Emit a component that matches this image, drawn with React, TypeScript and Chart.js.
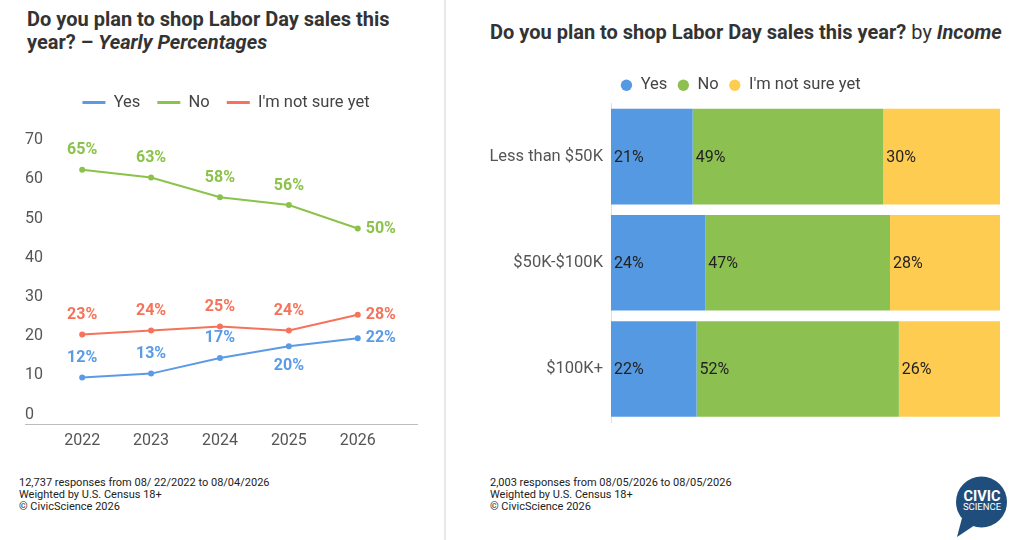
import React, { useEffect, useRef } from 'react';
import { Chart, registerables } from 'chart.js';

Chart.register(...registerables);

// ---------- data ----------
const years = [2022, 2023, 2024, 2025, 2026];
const yesByYear = [12, 13, 17, 20, 22];
const noByYear = [65, 63, 58, 56, 50];
const notSureByYear = [23, 24, 25, 24, 28];
const yearTicks = [0, 10, 20, 30, 40, 50, 60, 70];

const incomeGroups = ['Less than $50K', '$50K-$100K', '$100K+'];
const yesByIncome = [21, 24, 22];
const noByIncome = [49, 47, 52];
const notSureByIncome = [30, 28, 26];

const seriesNames = ['Yes', 'No', "I'm not sure yet"];

// ---------- styles ----------
const FONT = 'Roboto, "Noto Sans", "Liberation Sans", sans-serif';
const LINE_COLORS = ['#5B9BE6', '#8BC34A', '#F4735A'];
const BAR_COLORS = ['#5599E3', '#8CC152', '#FFCC52'];
const LABEL_PLACEMENT = [
  ['above', 'above', 'above', 'below', 'right'],
  ['above', 'above', 'above', 'above', 'right'],
  ['above', 'above', 'above', 'above', 'right'],
];
const LEFT_LEGEND_SHIFT = 5;

Chart.defaults.font.family = FONT;

const lineLabelPlugin = {
  id: 'lineLabels',
  afterLayout(chart: any) {
    if (chart.legend) {
      chart.legend.left += LEFT_LEGEND_SHIFT;
      chart.legend.right += LEFT_LEGEND_SHIFT;
    }
  },
  afterDatasetsDraw(chart: any) {
    const ctx = chart.ctx;
    ctx.save();
    ctx.font = `bold 16px ${FONT}`;
    ctx.textBaseline = 'middle';
    chart.data.datasets.forEach((ds: any, i: number) => {
      const meta = chart.getDatasetMeta(i);
      meta.data.forEach((pt: any, j: number) => {
        const v = ds.data[j].y;
        const place = LABEL_PLACEMENT[i][j];
        let x = pt.x;
        let y = pt.y;
        ctx.fillStyle = LINE_COLORS[i];
        if (place === 'right') {
          ctx.textAlign = 'left';
          x += 8;
        } else {
          ctx.textAlign = 'center';
          y += place === 'above' ? -19.5 : 19.5;
        }
        ctx.fillText(`${v}%`, x, y);
      });
    });
    ctx.restore();
  },
};

const barLabelPlugin = {
  id: 'barLabels',
  afterDatasetsDraw(chart: any) {
    const ctx = chart.ctx;
    ctx.save();
    ctx.font = `16px ${FONT}`;
    ctx.fillStyle = '#222222';
    ctx.textAlign = 'left';
    ctx.textBaseline = 'middle';
    chart.data.datasets.forEach((ds: any, i: number) => {
      const meta = chart.getDatasetMeta(i);
      meta.data.forEach((bar: any, j: number) => {
        const p = bar.getProps(['x', 'y', 'base'], true);
        ctx.fillText(`${ds.rawValues[j]}%`, Math.min(p.x, p.base) + 3, p.y + 1);
      });
    });
    ctx.restore();
  },
};

function makeLineConfig(): any {
  const series = [yesByYear, noByYear, notSureByYear];
  return {
    type: 'line',
    data: {
      datasets: series.map((vals, i) => ({
        label: seriesNames[i],
        data: years.map((yr, k) => ({ x: yr, y: vals[k] })),
        borderColor: LINE_COLORS[i],
        backgroundColor: LINE_COLORS[i],
        pointBackgroundColor: LINE_COLORS[i],
        borderWidth: 2,
        pointRadius: 3,
        pointBorderWidth: 0,
        tension: 0,
      })),
    },
    options: {
      animation: false,
      responsive: false,
      layout: { padding: { top: 7.2, left: 25, right: 28, bottom: 3.2 } },
      plugins: {
        tooltip: { enabled: false },
        legend: {
          display: true,
          position: 'top',
          labels: {
            boxWidth: 23,
            boxHeight: 3,
            padding: 17,
            color: '#444444',
            font: { size: 16.5, family: FONT },
            generateLabels: (chart: any) =>
              Chart.defaults.plugins.legend.labels
                .generateLabels(chart)
                .map((l: any) => ({ ...l, lineWidth: 0 })),
          },
        },
      },
      scales: {
        x: {
          type: 'linear',
          min: 2021.17,
          max: 2026.86,
          afterBuildTicks: (axis: any) => {
            axis.ticks = years.map((v) => ({ value: v }));
          },
          grid: { display: false, drawTicks: false },
          border: { display: true, color: '#BDBDBD', width: 1 },
          ticks: {
            callback: (v: any) => String(v),
            color: '#555555',
            font: { size: 16, family: FONT },
            padding: 6.5,
          },
        },
        y: {
          min: 0,
          max: 77.5,
          afterBuildTicks: (axis: any) => {
            axis.ticks = yearTicks.map((v) => ({ value: v }));
          },
          grid: { display: false, drawTicks: false },
          border: { display: false },
          ticks: {
            mirror: true,
            padding: 0,
            labelOffset: -10,
            color: '#555555',
            font: { size: 16, family: FONT },
          },
        },
      },
    },
    plugins: [lineLabelPlugin],
  };
}

function makeBarConfig(): any {
  const series = [yesByIncome, noByIncome, notSureByIncome];
  const rowTotals = incomeGroups.map((_, k) => series.reduce((s, vals) => s + vals[k], 0));
  return {
    type: 'bar',
    data: {
      labels: incomeGroups,
      datasets: series.map((vals, i) => ({
        label: seriesNames[i],
        // 100% stacked: each row is scaled to its total
        data: vals.map((v, k) => (v / rowTotals[k]) * 100),
        rawValues: vals,
        backgroundColor: BAR_COLORS[i],
        borderWidth: 0,
        categoryPercentage: 1,
        barPercentage: 0.9,
      })),
    },
    options: {
      animation: false,
      responsive: false,
      indexAxis: 'y',
      layout: { padding: { top: 7, left: 0, right: 24, bottom: 12.5 } },
      plugins: {
        tooltip: { enabled: false },
        legend: {
          display: true,
          position: 'top',
          labels: {
            usePointStyle: true,
            pointStyle: 'circle',
            boxWidth: 12,
            boxHeight: 8,
            padding: 10,
            color: '#444444',
            font: { size: 16.5, family: FONT },
          },
        },
      },
      scales: {
        x: { stacked: true, min: 0, max: 100, display: false },
        y: {
          stacked: true,
          afterFit: (s: any) => {
            s.width = 130;
          },
          grid: { display: false, drawTicks: false },
          border: { display: true, color: '#E0E0E0', width: 1 },
          ticks: {
            color: '#555555',
            font: { size: 16.5, family: FONT },
            padding: 8,
          },
        },
      },
    },
    plugins: [barLabelPlugin],
  };
}

function ChartCanvas(props: { make: () => any; left: number; top: number; width: number; height: number }) {
  const ref = useRef<HTMLCanvasElement>(null);
  useEffect(() => {
    const chart = new Chart(ref.current as HTMLCanvasElement, props.make());
    return () => chart.destroy();
  }, []);
  return (
    <canvas
      ref={ref}
      width={props.width}
      height={props.height}
      style={{
        position: 'absolute',
        left: props.left,
        top: props.top,
        width: props.width,
        height: props.height,
      }}
    />
  );
}

const footStyle: React.CSSProperties = {
  position: 'absolute',
  top: 477,
  fontSize: 11,
  lineHeight: '12px',
  color: '#222',
  whiteSpace: 'nowrap',
};

export default function App() {
  return (
    <div
      style={{
        position: 'fixed',
        left: 0,
        top: 0,
        width: 1024,
        height: 540,
        background: '#ffffff',
        fontFamily: FONT,
        overflow: 'hidden',
      }}
    >
      <div
        style={{
          position: 'absolute',
          left: 27,
          top: 8,
          fontSize: 20,
          lineHeight: '23px',
          fontWeight: 700,
          color: '#333333',
          whiteSpace: 'nowrap',
        }}
      >
        Do you plan to shop Labor Day sales this
        <br />
        year? – <i>Yearly Percentages</i>
      </div>
      <div
        style={{
          position: 'absolute',
          left: 490,
          top: 20.5,
          fontSize: 20,
          lineHeight: '23px',
          color: '#333333',
          whiteSpace: 'nowrap',
        }}
      >
        <b>Do you plan to shop Labor Day sales this year?</b> by <b><i>Income</i></b>
      </div>

      <div style={{ position: 'absolute', left: 444, top: 0, width: 2, height: 540, background: '#E8E8E8' }} />

      <ChartCanvas make={makeLineConfig} left={0} top={70} width={445} height={390} />
      <ChartCanvas make={makeBarConfig} left={481} top={60} width={543} height={380} />

      <div style={{ ...footStyle, left: 19 }}>
        12,737 responses from 08/ 22/2022 to 08/04/2026
        <br />
        Weighted by U.S. Census 18+
        <br />© CivicScience 2026
      </div>
      <div style={{ ...footStyle, left: 490 }}>
        2,003 responses from 08/05/2026 to 08/05/2026
        <br />
        Weighted by U.S. Census 18+
        <br />© CivicScience 2026
      </div>

      <svg
        style={{ position: 'absolute', left: 950, top: 470 }}
        width={64}
        height={70}
        viewBox="0 0 64 70"
      >
        <circle cx={31.5} cy={32} r={25.5} fill="#1F4E7D" />
        <polygon points="12,48 7,67 25,55" fill="#1F4E7D" />
        <text
          x={32}
          y={30.7}
          textAnchor="middle"
          fill="#ffffff"
          fontFamily={FONT}
          fontWeight={700}
          fontSize={14.5}
        >
          CIVIC
        </text>
        <text x={32} y={40} textAnchor="middle" fill="#ffffff" fontFamily={FONT} fontSize={9.5}>
          SCIENCE
        </text>
      </svg>
    </div>
  );
}
